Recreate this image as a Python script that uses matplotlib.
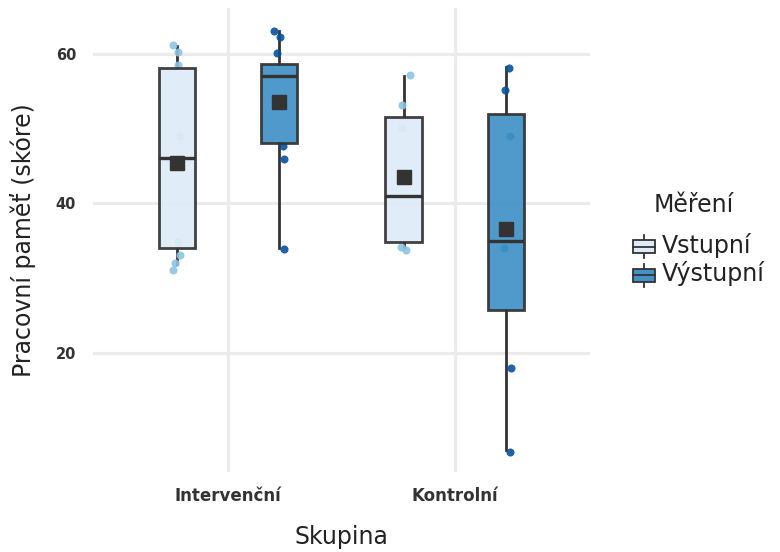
import numpy as np
import matplotlib.pyplot as plt
from matplotlib.patches import Patch, Rectangle
from matplotlib.lines import Line2D
from matplotlib.legend_handler import HandlerBase

plt.rcParams['font.family'] = ['DejaVu Sans']

groups = ['Intervenční', 'Kontrolní']
measures = ['Vstupní', 'Výstupní']
fills = ['#deebf7', '#4292c6']
dot_colors = ['#8cc3e3', '#08519c']
edge = '#333333'

# box statistics, order: Int-Vst, Int-Výst, Kon-Vst, Kon-Výst
whislo = [31.9, 34.0, 34.0, 7.0]
q1 = [34.0, 48.1, 34.8, 25.8]
med = [46.1, 57.1, 41.0, 35.0]
q3 = [58.1, 58.6, 51.5, 52.0]
whishi = [61.0, 63.0, 57.0, 58.3]
means = [45.4, 53.6, 43.6, 36.6]

# individual scores (jittered as shown)
pts = [
    [61.2, 60.3, 58.5, 49.0, 34.9, 33.1, 32.0, 31.1],
    [63.0, 62.2, 60.1, 47.7, 46.0, 33.9],
    [57.2, 53.2, 50.1, 34.2, 33.8],
    [58.1, 55.2, 49.0, 34.0, 18.0, 6.8],
]
jit = [
    [-0.018, 0.004, 0.004, 0.013, 0.004, 0.013, -0.009, -0.018],
    [-0.02, 0.007, -0.007, 0.02, 0.024, 0.024],
    [0.026, -0.006, -0.006, -0.01, 0.009],
    [0.014, -0.005, 0.02, -0.008, 0.024, 0.017],
]

dodge = 0.225
positions = []
for g in range(len(groups)):
    for m in range(len(measures)):
        positions.append(g + 1 + (m - 0.5) * 2 * dodge)

fig = plt.figure(figsize=(7.8, 5.52), dpi=100)
ax = fig.add_axes([0.119, 0.145, 0.637, 0.840])

for i in range(4):
    m = i % 2
    ax.plot(np.array(jit[i]) + positions[i], pts[i], 'o', ms=5.8, color=dot_colors[m],
            alpha=0.9, mec='none', zorder=2)

stats = []
for i in range(4):
    stats.append(dict(whislo=whislo[i], q1=q1[i], med=med[i], q3=q3[i],
                      whishi=whishi[i], mean=means[i]))

bp = ax.bxp(stats, positions=positions, widths=0.16, patch_artist=True,
            showmeans=True, showcaps=False, showfliers=False,
            boxprops=dict(edgecolor=edge, linewidth=2.0),
            whiskerprops=dict(color=edge, linewidth=2.0),
            medianprops=dict(color=edge, linewidth=2.4),
            meanprops=dict(marker='s', markerfacecolor=edge, markeredgecolor=edge,
                           markersize=9.5),
            zorder=3)
for i, b in enumerate(bp['boxes']):
    b.set_facecolor(fills[i % 2])
    b.set_alpha(0.93)
for w in bp['whiskers']:
    w.set_zorder(1.5)

ax.set_xlim(0.405, 2.595)
ax.set_ylim(4.1, 66.1)
ax.set_xticks([1, 2])
ax.set_xticklabels(groups)
ax.set_yticks([20, 40, 60])
ax.grid(True, color='#ebebeb', linewidth=2.3, zorder=0)
ax.set_axisbelow(True)
for s in ax.spines.values():
    s.set_visible(False)
ax.tick_params(length=0, colors='#333333')
ax.tick_params(axis='x', pad=11, labelsize=12)
ax.tick_params(axis='y', pad=12, labelsize=10.5)
for t in ax.get_xticklabels() + ax.get_yticklabels():
    t.set_fontweight('bold')

ax.set_xlabel('Skupina', fontsize=17, color='#222222', labelpad=14)
ax.set_ylabel('Pracovní paměť (skóre)', fontsize=17, color='#222222', labelpad=14)


class BoxKey(HandlerBase):
    def create_artists(self, legend, orig, xd, yd, w, h, fs, trans):
        cx = xd + w / 2
        wl = Line2D([cx, cx], [yd - 0.3 * h, yd + 1.3 * h], color=edge, lw=1.3,
                    transform=trans)
        box = Rectangle((xd, yd + 0.05 * h), w, 0.9 * h, facecolor=orig.get_facecolor(),
                        edgecolor=edge, lw=1.3, transform=trans)
        ml = Line2D([xd, xd + w], [yd + h / 2, yd + h / 2], color=edge, lw=1.3,
                    transform=trans)
        return [wl, box, ml]


handles = [Patch(facecolor=fills[m], label=measures[m]) for m in range(2)]
leg = fig.legend(handles=handles, loc='center left',
                 bbox_to_anchor=(0.8, 0.53), frameon=False, fontsize=17,
                 handler_map={Patch: BoxKey()},
                 handlelength=0.9, handleheight=0.55, handletextpad=0.3,
                 labelspacing=0.15, borderaxespad=0)
for t in leg.get_texts():
    t.set_color('#222222')
fig.text(0.89, 1 - 205 / 552, 'Měření', ha='center', va='center', fontsize=17,
         color='#222222')

fig.savefig('out.png', dpi=100)
